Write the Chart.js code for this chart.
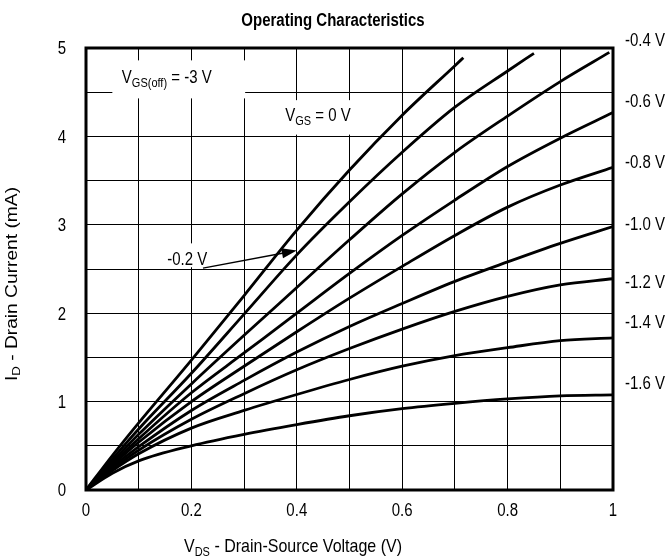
<!DOCTYPE html>
<html>
<head>
<meta charset="utf-8">
<script src="https://cdn.jsdelivr.net/npm/chart.js@4"></script>
<style>
  body { margin: 0; background: #fff; }
</style>
</head>
<body>
<canvas id="chart" width="667" height="556"></canvas>
<script>
const FONT = "'Liberation Sans', Arial, sans-serif";
const STRETCH = 1.2;   // text in the original is a bit taller than wide

// V_DS points (V) read for each curve; top curves stop early at the plot top
const vdsFull  = [0, 0.05, 0.1, 0.2, 0.3, 0.4, 0.5, 0.6, 0.7, 0.8, 0.9, 1.0];
const vdsTo072 = [0, 0.05, 0.1, 0.2, 0.3, 0.4, 0.5, 0.6, 0.7, 0.716];
const vdsTo085 = [0, 0.05, 0.1, 0.2, 0.3, 0.4, 0.5, 0.6, 0.7, 0.8, 0.85];
const vdsTo099 = [0, 0.05, 0.1, 0.2, 0.3, 0.4, 0.5, 0.6, 0.7, 0.8, 0.9, 0.993];

// I_D (mA) for each V_GS curve
const id_0V   = [0, 0.39, 0.76, 1.47, 2.2, 2.94, 3.62, 4.24, 4.8, 4.89];
const id_m02V = [0, 0.35, 0.69, 1.32, 1.99, 2.66, 3.26, 3.82, 4.33, 4.74, 4.94];
const id_m04V = [0, 0.32, 0.63, 1.2, 1.75, 2.29, 2.83, 3.35, 3.82, 4.23, 4.62, 4.95];
const id_m06V = [0, 0.3, 0.58, 1.1, 1.55, 2.0, 2.45, 2.88, 3.28, 3.66, 3.98, 4.27];
const id_m08V = [0, 0.28, 0.54, 1.0, 1.4, 1.79, 2.17, 2.53, 2.88, 3.2, 3.45, 3.65];
const id_m10V = [0, 0.26, 0.49, 0.9, 1.24, 1.56, 1.85, 2.11, 2.36, 2.58, 2.79, 2.98];
const id_m12V = [0, 0.24, 0.45, 0.8, 1.09, 1.36, 1.6, 1.82, 2.02, 2.19, 2.32, 2.39];
const id_m14V = [0, 0.22, 0.41, 0.7, 0.9, 1.08, 1.25, 1.4, 1.52, 1.61, 1.69, 1.72];
const id_m16V = [0, 0.19, 0.33, 0.5, 0.63, 0.74, 0.84, 0.92, 0.98, 1.03, 1.065, 1.075];

const curveNames = ['0 V', '-0.2 V', '-0.4 V', '-0.6 V', '-0.8 V', '-1.0 V', '-1.2 V', '-1.4 V', '-1.6 V'];
const curveX = [vdsTo072, vdsTo085, vdsTo099, vdsFull, vdsFull, vdsFull, vdsFull, vdsFull, vdsFull];
const curveY = [id_0V, id_m02V, id_m04V, id_m06V, id_m08V, id_m10V, id_m12V, id_m14V, id_m16V];

// labels at the right edge, centred at these I_D levels
const rightLabels = ['-0.4 V', '-0.6 V', '-0.8 V', '-1.0 V', '-1.2 V', '-1.4 V', '-1.6 V'];
const rightLabelAt = [5.09, 4.41, 3.72, 3.01, 2.36, 1.90, 1.22];

const datasets = curveNames.map((name, i) => ({
    label: name,
    data: curveX[i].map((x, j) => ({ x: x, y: curveY[i][j] })),
    borderColor: '#000',
    borderWidth: 2.8,
    pointRadius: 0,
    fill: false,
    cubicInterpolationMode: 'monotone'
}));

function fmtX(v) {
    const r = Math.round(v * 10);
    if (r % 2 !== 0) return '';
    return r === 0 ? '0' : (r === 10 ? '1' : (r / 10).toFixed(1));
}

// draw text made of pieces [text, size, dy, bold], baseline at y
function richText(ctx, parts, x, y, align, sx, sy) {
    const fontOf = p => (p[3] ? 'bold ' : '') + p[1] + 'px ' + FONT;
    let w = 0;
    parts.forEach(p => { ctx.font = fontOf(p); w += ctx.measureText(p[0]).width; });
    let cx = align === 'center' ? -w / 2 : (align === 'right' ? -w : 0);
    ctx.save();
    ctx.translate(x, y);
    ctx.scale(sx, sy);
    ctx.textAlign = 'left';
    ctx.textBaseline = 'alphabetic';
    parts.forEach(p => {
        ctx.font = fontOf(p);
        ctx.fillText(p[0], cx, p[2]);
        cx += ctx.measureText(p[0]).width;
    });
    ctx.restore();
}

const decor = {
    id: 'decor',
    beforeDatasetsDraw(chart) {
        const ctx = chart.ctx, xs = chart.scales.x, ys = chart.scales.y;
        ctx.save();
        ctx.fillStyle = '#fff';
        // white boxes behind the notes
        [[0.05, 4.86, 0.302, 4.43], [0.378, 4.41, 0.507, 4.02], [0.148, 2.79, 0.233, 2.52]].forEach(b => {
            const x1 = xs.getPixelForValue(b[0]), y1 = ys.getPixelForValue(b[1]);
            const x2 = xs.getPixelForValue(b[2]), y2 = ys.getPixelForValue(b[3]);
            ctx.fillRect(x1, y1, x2 - x1, y2 - y1);
        });
        ctx.fillStyle = '#000';
        richText(ctx, [['V', 15, 0], ['GS(off)', 11, 3], [' = -3 V', 15, 0]],
            xs.getPixelForValue(0.068), ys.getPixelForValue(4.60), 'left', 1, STRETCH);
        richText(ctx, [['V', 15, 0], ['GS', 11, 3], [' = 0 V', 15, 0]],
            xs.getPixelForValue(0.378), ys.getPixelForValue(4.17), 'left', 1, STRETCH);
        richText(ctx, [['-0.2 V', 15, 0]],
            xs.getPixelForValue(0.154), ys.getPixelForValue(2.545), 'left', 1, STRETCH);
        ctx.restore();
    },
    afterDatasetsDraw(chart) {
        const ctx = chart.ctx, a = chart.chartArea, xs = chart.scales.x, ys = chart.scales.y;
        ctx.save();
        ctx.strokeStyle = '#000';
        ctx.lineWidth = 3;
        ctx.strokeRect(a.left, a.top, a.right - a.left, a.bottom - a.top);

        // arrow to the -0.2 V curve
        const x0 = xs.getPixelForValue(0.222), y0 = ys.getPixelForValue(2.51);
        const x1 = xs.getPixelForValue(0.40), y1 = ys.getPixelForValue(2.71);
        const ang = Math.atan2(y1 - y0, x1 - x0);
        ctx.lineWidth = 1.5;
        ctx.beginPath();
        ctx.moveTo(x0, y0);
        ctx.lineTo(x1 - 12 * Math.cos(ang), y1 - 12 * Math.sin(ang));
        ctx.stroke();
        ctx.fillStyle = '#000';
        ctx.beginPath();
        ctx.moveTo(x1, y1);
        ctx.lineTo(x1 - 15 * Math.cos(ang) + 5 * Math.sin(ang), y1 - 15 * Math.sin(ang) - 5 * Math.cos(ang));
        ctx.lineTo(x1 - 15 * Math.cos(ang) - 5 * Math.sin(ang), y1 - 15 * Math.sin(ang) + 5 * Math.cos(ang));
        ctx.closePath();
        ctx.fill();
        ctx.restore();
    },
    afterDraw(chart) {
        const ctx = chart.ctx, a = chart.chartArea, xs = chart.scales.x, ys = chart.scales.y;
        ctx.save();
        ctx.fillStyle = '#000';

        // tick labels, placed by the scales
        xs.ticks.forEach((t, i) => {
            const s = fmtX(t.value);
            if (s) richText(ctx, [[s, 15, 0]], xs.getPixelForTick(i), 515.5, 'center', 1, STRETCH);
        });
        ys.ticks.forEach((t, i) => {
            if (Number.isInteger(t.value)) {
                richText(ctx, [[String(t.value), 15, 0]], a.left - 20, ys.getPixelForTick(i) + 6.4, 'right', 1, STRETCH);
            }
        });

        richText(ctx, [['Operating Characteristics', 15, 0, true]], 333, 25.5, 'center', 1, STRETCH);
        richText(ctx, [['V', 16, 0], ['DS', 11, 3], [' - Drain-Source Voltage (V)', 16, 0]], 293, 552, 'center', 1, STRETCH);

        ctx.save();
        ctx.translate(17, 284);
        ctx.rotate(-Math.PI / 2);
        richText(ctx, [['I', 16, 0], ['D', 11, 3], [' - Drain Current (mA)', 16, 0]], 0, 0, 'center', STRETCH, 1);
        ctx.restore();

        rightLabels.forEach((t, i) => {
            richText(ctx, [[t, 15, 0]], a.right + 12, ys.getPixelForValue(rightLabelAt[i]) + 6.4, 'left', 1, STRETCH);
        });
        ctx.restore();
    }
};

new Chart(document.getElementById('chart'), {
    type: 'line',
    data: { datasets: datasets },
    options: {
        responsive: false,
        animation: false,
        layout: { padding: { top: 48, right: 54, left: 0, bottom: 0 } },
        plugins: {
            legend: { display: false },
            tooltip: { enabled: false },
            title: { display: false }
        },
        scales: {
            x: {
                type: 'linear',
                min: 0,
                max: 1,
                afterFit: s => { s.height = 66; },
                grid: { color: '#000', lineWidth: 1, drawTicks: false },
                border: { display: false },
                ticks: { display: false, stepSize: 0.1, autoSkip: false }
            },
            y: {
                min: 0,
                max: 5,
                afterFit: s => { s.width = 86; },
                grid: { color: '#000', lineWidth: 1, drawTicks: false },
                border: { display: false },
                ticks: { display: false, stepSize: 0.5, autoSkip: false }
            }
        }
    },
    plugins: [decor]
});
</script>
</body>
</html>
